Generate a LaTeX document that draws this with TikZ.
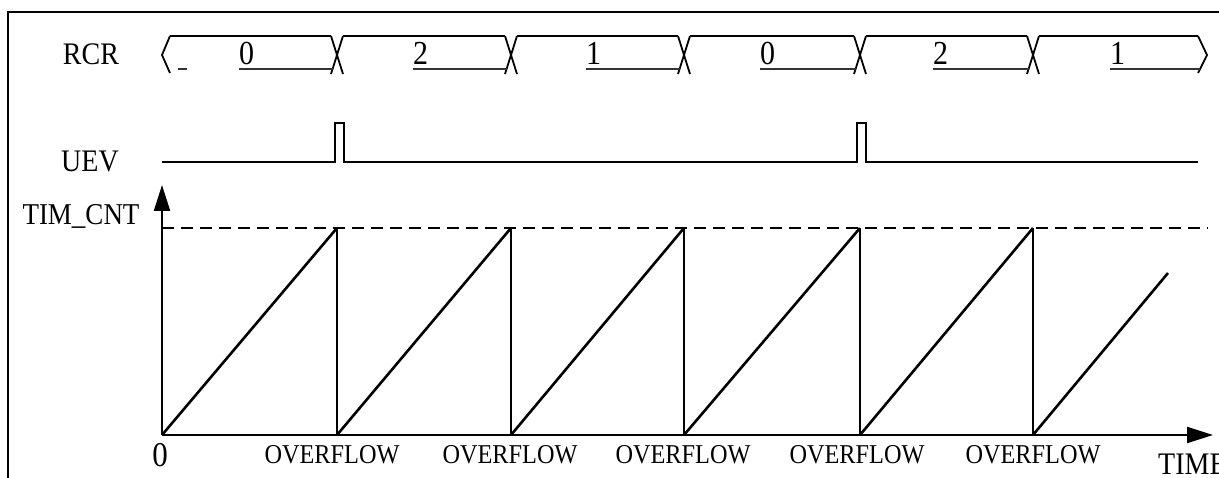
\documentclass[tikz,border=0pt]{standalone}
\usepackage{fontspec}
\setmainfont{Liberation Serif}
\usetikzlibrary{arrows.meta}
\newcommand{\tallt}[1]{\scalebox{1}[1.12]{#1}}
\begin{document}
\begin{tikzpicture}[x=1pt,y=-1pt,
  lab/.style={font=\fontsize{28}{28}\selectfont, inner sep=0pt, anchor=base},
  num/.style={font=\fontsize{30}{30}\selectfont, inner sep=0pt, anchor=base west},
  ovf/.style={font=\fontsize{24.3}{24.3}\selectfont, inner sep=0pt, anchor=base},
  sig/.style={line width=1.8pt},
  uline/.style={line width=1.3pt, black!80},
  saw/.style={line width=2.6pt},
  vert/.style={line width=2pt},
  ax/.style={line width=2.2pt, -{Triangle[length=26pt,width=16pt]}},
  dsh/.style={line width=1.8pt, dash pattern=on 12pt off 7pt},
]
\useasboundingbox (0,0) rectangle (1219,478);
% frame
\draw[line width=2.5pt] (8,478) -- (8,12) -- (1219,12);

% labels
\node[lab] (rcr) at (91,65) {\tallt{RCR}};
\node[lab] (uev) at (90,172) {\tallt{UEV}};
\node[lab, font=\fontsize{27}{27}\selectfont] (tim) at (81,225) {\tallt{TIM\_CNT}};

% RCR bus
\coordinate (b0) at (162,55);
\coordinate (b6) at (1207,55);
\draw[sig] (170,36) -- (b0) -- (170,73);
\draw[sig] (1198,36) -- (b6) -- (1198,73);
\foreach \i/\c in {1/337,2/511,3/684,4/860,5/1033}{
  \coordinate (b\i) at (\c,55);
  \draw[sig] ([shift={(-6,-19)}]b\i) -- ([shift={(6,19)}]b\i);
  \draw[sig] ([shift={(6,-19)}]b\i) -- ([shift={(-6,19)}]b\i);
}
\draw[sig] (170,36) -- ([shift={(-6,-19)}]b1);
\foreach \i/\j in {1/2,2/3,3/4,4/5}{
  \draw[sig] ([shift={(6,-19)}]b\i) -- ([shift={(-6,-19)}]b\j);
}
\draw[sig] ([shift={(6,-19)}]b5) -- (1198,36);
% values with underline
\foreach \k/\x/\v/\e in {1/239/0/333,2/413/2/507,3/586/1/680,4/760/0/856,5/933/2/1029,6/1110/1/1200}{
  \node[num] (v\k) at (\x,65) {\tallt{\v}};
  \draw[uline] (v\k.base west) ++(0,4) -- (\e,69);
}
\draw[uline] (178,69) -- (187,69);

% UEV
\coordinate (u0) at (162,162);
\coordinate (u1) at (1198,162);
\draw[sig] (u0) -- (335,162) -- (335,123) -- (344,123) -- (344,162)
  -- (857,162) -- (857,123) -- (866,123) -- (866,162) -- (u1);

% axes
\coordinate (O) at (162,435);
\coordinate (ytop) at (162,185);
\coordinate (xend) at (1213,435);
\draw[ax] (O) -- (ytop);
\draw[ax] (O) -- (xend);
\coordinate (d0) at (162,228);
\coordinate (d1) at (1208,228);
\draw[dsh] (d0) -- (d1);

% sawtooth
\foreach \a/\c in {162/337,337/511,511/684,684/860,860/1033}{
  \draw[saw] (\a,435) -- (\c,228);
  \draw[vert] (\c,228) -- (\c,435);
}
\coordinate (last) at (1168,273);
\draw[saw] (1033,435) -- (last);

% axis labels
\node[lab, font=\fontsize{31}{31}\selectfont] (zero) at (160,466) {\tallt{0}};
\foreach \k/\c in {1/332,2/510,3/683,4/857,5/1033}{
  \node[ovf] (of\k) at (\c,463) {\tallt{OVERFLOW}};
}
\node[lab, anchor=base west] (time) at (1158,474) {\tallt{TIME}};
\end{tikzpicture}
\end{document}
